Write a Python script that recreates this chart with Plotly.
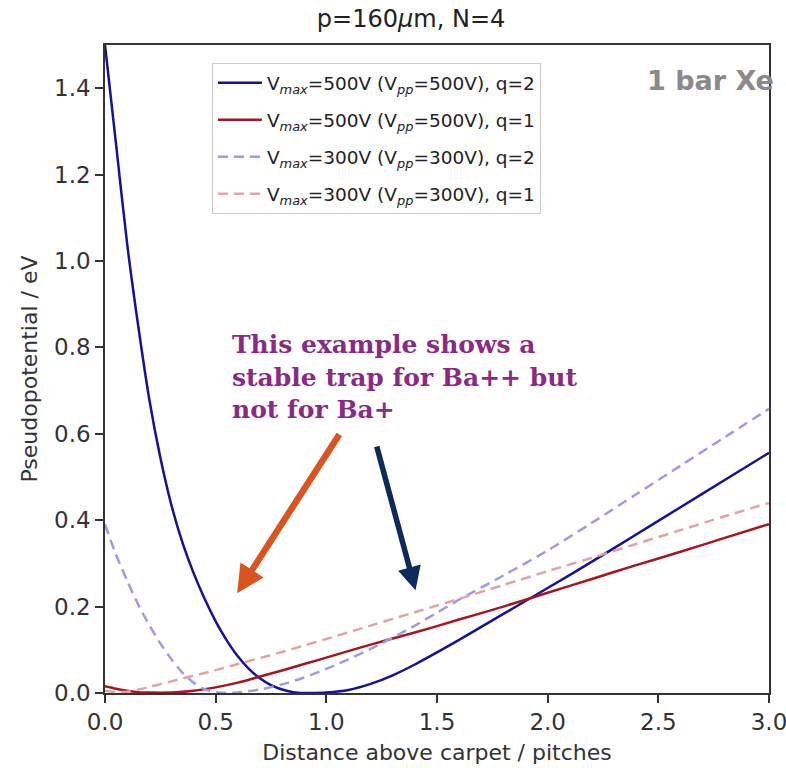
import plotly.graph_objects as go

# ---- data ----
x_b500 = [0.0, 0.05, 0.10, 0.15, 0.20, 0.25, 0.30, 0.35, 0.40, 0.45, 0.50, 0.55, 0.60, 0.65,
          0.70, 0.75, 0.80, 0.85, 0.90, 0.95, 1.00, 1.10, 1.20, 1.30, 1.40, 1.50, 1.60, 1.70,
          1.80, 1.90, 2.00, 2.20, 2.40, 2.60, 2.80, 3.00]
y_b500 = [1.50, 1.27, 1.04, 0.85, 0.68, 0.545, 0.435, 0.348, 0.278, 0.218, 0.166, 0.122, 0.085, 0.056,
          0.034, 0.018, 0.008, 0.002, 0.0, 0.0, 0.001, 0.007, 0.021, 0.041, 0.066, 0.094, 0.123, 0.153,
          0.183, 0.213, 0.243, 0.304, 0.367, 0.430, 0.493, 0.556]

x_r500 = [0.0, 0.05, 0.10, 0.15, 0.20, 0.30, 0.40, 0.50, 0.60, 0.70, 0.80, 0.90, 1.00, 1.20,
          1.40, 1.60, 1.80, 2.00, 2.20, 2.40, 2.60, 2.80, 3.00]
y_r500 = [0.016, 0.010, 0.005, 0.002, 0.001, 0.001, 0.005, 0.013, 0.024, 0.038, 0.052, 0.067,
          0.082, 0.112, 0.140, 0.170, 0.200, 0.232, 0.264, 0.296, 0.327, 0.359, 0.391]

x_b300 = [0.0, 0.05, 0.10, 0.15, 0.20, 0.25, 0.30, 0.35, 0.40, 0.45, 0.50, 0.55, 0.60, 0.70,
          0.80, 0.90, 1.00, 1.10, 1.20, 1.30, 1.40, 1.50, 1.60, 1.80, 2.00, 2.20, 2.40, 2.60,
          2.80, 3.00]
y_b300 = [0.39, 0.32, 0.26, 0.205, 0.157, 0.115, 0.078, 0.047, 0.024, 0.009, 0.002, 0.0, 0.001, 0.008,
          0.020, 0.036, 0.056, 0.078, 0.102, 0.128, 0.156, 0.186, 0.216, 0.272, 0.330, 0.394, 0.460,
          0.526, 0.592, 0.658]

x_r300 = [0.0, 0.05, 0.10, 0.15, 0.20, 0.30, 0.40, 0.50, 0.60, 0.70, 0.80, 0.90, 1.00, 1.20,
          1.40, 1.60, 1.80, 2.00, 2.20, 2.40, 2.60, 2.80, 3.00]
y_r300 = [0.005, 0.002, 0.003, 0.008, 0.014, 0.027, 0.040, 0.053, 0.067, 0.081, 0.095, 0.110,
          0.125, 0.156, 0.187, 0.218, 0.250, 0.282, 0.313, 0.345, 0.377, 0.409, 0.440]

names = [
    "V<sub><i>max</i></sub>=500V (V<sub><i>pp</i></sub>=500V), q=2",
    "V<sub><i>max</i></sub>=500V (V<sub><i>pp</i></sub>=500V), q=1",
    "V<sub><i>max</i></sub>=300V (V<sub><i>pp</i></sub>=300V), q=2",
    "V<sub><i>max</i></sub>=300V (V<sub><i>pp</i></sub>=300V), q=1",
]
x_ticks = [0.0, 0.5, 1.0, 1.5, 2.0, 2.5, 3.0]
y_ticks = [0.0, 0.2, 0.4, 0.6, 0.8, 1.0, 1.2, 1.4]

title_text = "p=160<i>μ</i>m, N=4"
note_text = "This example shows a<br>stable trap for Ba++ but<br>not for Ba+"
corner_text = "1 bar Xe"
# arrow endpoints (data units): (head_x, head_y, tail_x, tail_y)
arrow_orange = (0.597, 0.231, 1.063, 0.602)
arrow_navy = (1.403, 0.238, 1.226, 0.574)

# ---- figure ----
FONT = "DejaVu Sans"
fig = go.Figure()
series = [
    (x_b500, y_b500, "#14129C", "solid"),
    (x_r500, y_r500, "#AA1420", "solid"),
    (x_b300, y_b300, "#9C9CE2", "10px,6px"),
    (x_r300, y_r300, "#E3A2A4", "10px,6px"),
]
for i, (xs, ys, col, dash) in enumerate(series):
    fig.add_trace(go.Scatter(
        x=xs, y=ys, mode="lines", name=names[i], legendgroup=f"g{i}",
        line=dict(color=col, width=2.5, dash=dash, shape="spline", smoothing=0.8),
    ))

axis_common = dict(
    showgrid=False, zeroline=False, showline=True, linecolor="#333333", linewidth=1.5,
    mirror=True, ticks="outside", ticklen=8, tickwidth=1.5, tickcolor="#333333",
    tickfont=dict(family=FONT, size=23, color="#333333"), automargin=False,
    ticklabeloverflow="allow",
)
fig.update_xaxes(range=[0, 3], tickvals=x_ticks, ticktext=[f"{v:.1f}" for v in x_ticks],
                 title=dict(text="Distance above carpet / pitches",
                            font=dict(family=FONT, size=22, color="#333333"), standoff=10),
                 **axis_common)
fig.update_yaxes(range=[0, 1.5], tickvals=y_ticks, ticktext=[f"{v:.1f}" for v in y_ticks],
                 title=dict(text="Pseudopotential / eV",
                            font=dict(family=FONT, size=22, color="#333333"), standoff=10),
                 **axis_common)

annotations = [
    dict(text=corner_text, xref="paper", yref="paper", x=1.01, y=0.945, xanchor="right",
         yanchor="middle", showarrow=False,
         font=dict(family=FONT, size=27, color="#8A8A8A", weight="bold")),
    dict(text="<b>" + note_text + "</b>", xref="paper", yref="paper", x=0.188, y=0.487,
         xanchor="left", yanchor="middle", align="left", showarrow=False,
         font=dict(family="DejaVu Serif", size=25, color="#8B2A84")),
]
for (hx, hy, tx, ty), col, w in [(arrow_orange, "#D9541E", 6.5), (arrow_navy, "#0E2A5C", 5.5)]:
    annotations.append(dict(
        x=hx, y=hy, ax=tx, ay=ty, xref="x", yref="y", axref="x", ayref="y", text="",
        showarrow=True, arrowhead=2, arrowsize=0.85, arrowwidth=w, arrowcolor=col,
    ))

fig.update_layout(
    width=786, height=768,
    margin=dict(l=105, r=17, t=45, b=75),
    paper_bgcolor="white", plot_bgcolor="white",
    title=dict(text=title_text, x=0.523, xanchor="center", y=0.976, yanchor="middle",
               font=dict(family=FONT, size=24, color="#222222")),
    font=dict(family=FONT, color="#222222"),
    legend=dict(x=0.161, y=0.972, xanchor="left", yanchor="top",
                bgcolor="rgba(255,255,255,0.9)", bordercolor="#CCCCCC", borderwidth=1,
                font=dict(family=FONT, size=18.5, color="#222222"),
                tracegroupgap=10, traceorder="grouped", itemwidth=44),
    annotations=annotations,
    showlegend=True,
)
fig.write_html("out.html")
